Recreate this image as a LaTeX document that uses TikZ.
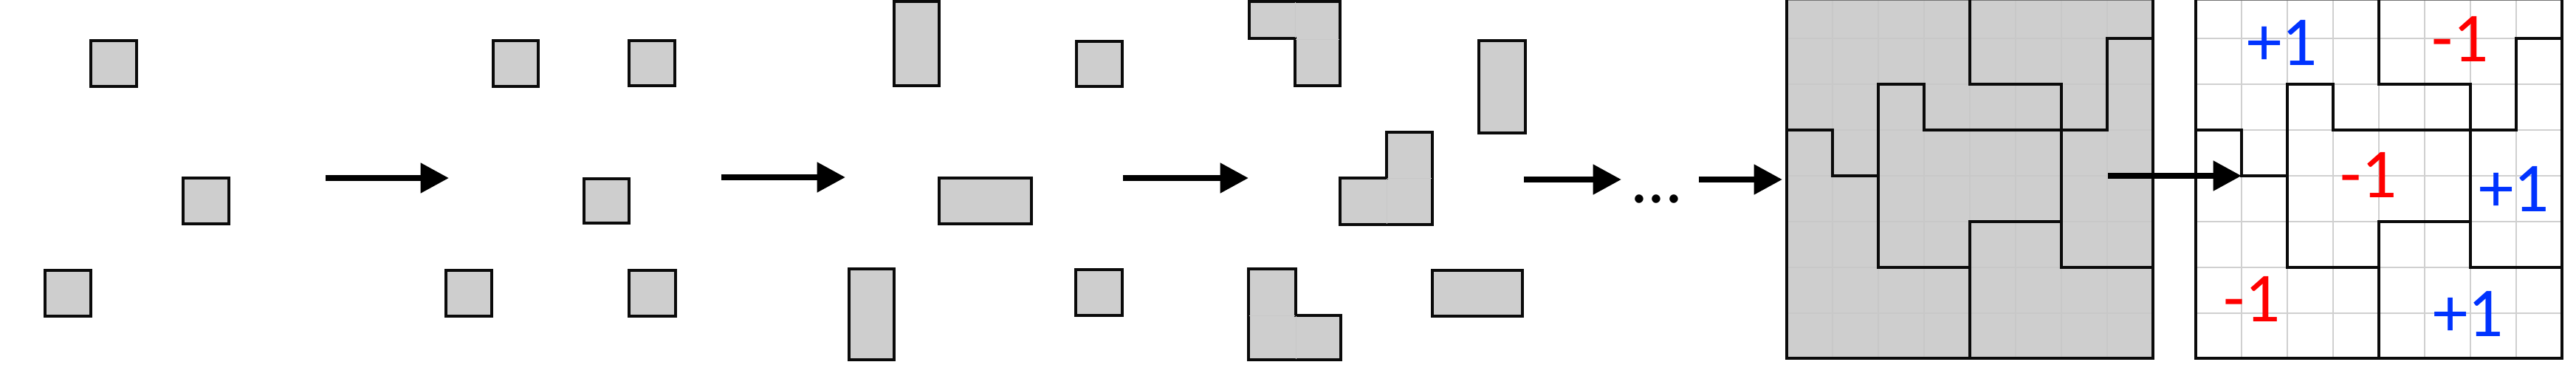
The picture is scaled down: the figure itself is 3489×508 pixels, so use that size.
\documentclass[tikz,border=0pt]{standalone}
\usepackage{fontspec}
\setmainfont{Carlito}
\usetikzlibrary{arrows.meta}
\definecolor{piecefill}{HTML}{CECECE}
\definecolor{pluscol}{HTML}{0033FF}
\definecolor{minuscol}{HTML}{FF0000}
\definecolor{gridlight}{HTML}{D0D0D0}
\definecolor{gridfaint}{HTML}{C8C8C8}
\definecolor{inkcol}{HTML}{0A0A0A}
\tikzset{
  piece/.style={fill=piecefill, draw=inkcol, line width=0.95pt, line join=miter},
  flow/.style={line width=2.3pt, -{Triangle[length=10.9pt,width=11.1pt]}},
  innercell/.style={draw=gridfaint, line width=0.25pt},
  cellgray/.style={draw=gridfaint, line width=0.3pt},
  cellwhite/.style={draw=gridlight, line width=0.5pt},
  cutline/.style={draw=inkcol, line width=0.95pt, line cap=rect},
  topedge/.style={draw=black!55, line width=0.35pt},
  lbl/.style={font=\fontsize{27}{30}\selectfont, inner sep=0pt, anchor=base},
}
\newcommand\puzzlecuts{%
  \draw[cutline] (0,0) -- (0,485) -- (496,485) -- (496,0);
  \draw[cutline] (0,176) -- (62,176) -- (62,238) -- (124,238);
  \draw[cutline] (186,176) -- (186,114) -- (124,114) -- (124,362) -- (248,362);
  \draw[cutline] (186,176) -- (372,176);
  \draw[cutline] (248,0) -- (248,114) -- (372,114) -- (372,362) -- (496,362);
  \draw[cutline] (372,176) -- (434,176) -- (434,52) -- (496,52);
  \draw[cutline] (248,485) -- (248,300) -- (372,300);
}
\begin{document}
\begin{tikzpicture}[x=0.01cm,y=-0.01cm]
\useasboundingbox (0,0) rectangle (3489,508);

% panel 1
\draw[piece] (123,55) rectangle (185,117);
\draw[piece] (248,241) rectangle (310,303);
\draw[piece] (61,366) rectangle (123,428);

% panel 2
\draw[piece] (668,55) rectangle (729,117);
\draw[piece] (852,55) rectangle (914,116);
\draw[piece] (791,242) rectangle (852,302);
\draw[piece] (604,366) rectangle (666,428);
\draw[piece] (852,366) rectangle (915,428);

% panel 3
\draw[piece] (1211,2) rectangle (1272,116);
\draw[piece] (1272,241) rectangle (1397,303);
\draw[piece] (1150,364) rectangle (1211,487);
\draw[piece] (1458,56) rectangle (1520,117);
\draw[piece] (1457,365) rectangle (1520,427);

% panel 4
\draw[piece] (1692,2) -- (1815,2) -- (1815,116) -- (1754,116) -- (1754,52) -- (1692,52) -- cycle;
\draw[innercell] (1754,3) -- (1754,51) (1755,53) -- (1814,53);
\draw[piece] (1878,179) -- (1940,179) -- (1940,304) -- (1815,304) -- (1815,241) -- (1878,241) -- cycle;
\draw[innercell] (1878,242) -- (1878,303) (1879,241) -- (1939,241);
\draw[piece] (2003,55) rectangle (2066,180);
\draw[piece] (1691,364) -- (1755,364) -- (1755,427) -- (1816,427) -- (1816,487) -- (1691,487) -- cycle;
\draw[innercell] (1692,427) -- (1754,427) (1755,428) -- (1755,486);
\draw[piece] (1940,366) rectangle (2062,428);

% dots
\node[lbl] (dots) at (2244,274) {...};

% grid 5 (grey)
\begin{scope}[shift={(2420,0)}]
  \fill[piecefill] (0,0) rectangle (496,485);
  \foreach \gx in {62,124,186,248,310,372,434} \draw[cellgray] (\gx,0) -- (\gx,485);
  \foreach \gy in {52,114,176,238,300,362,424} \draw[cellgray] (0,\gy) -- (496,\gy);
  \draw[topedge] (0,0.5) -- (496,0.5);
  \puzzlecuts
\end{scope}

% grid 6 (white, signed)
\begin{scope}[shift={(2974,0)}]
  \fill[white] (0,0) rectangle (496,485);
  \foreach \gx in {62,124,186,248,310,372,434} \draw[cellwhite] (\gx,0) -- (\gx,485);
  \foreach \gy in {52,114,176,238,300,362,424} \draw[cellwhite] (0,\gy) -- (496,\gy);
  \draw[topedge] (0,0.5) -- (496,0.5);
  \puzzlecuts
\end{scope}

% labels
\node[lbl, text=pluscol]  (l1) at (3091,88)  {+1};
\node[lbl, text=minuscol] (l2) at (3332,83)  {-1};
\node[lbl, text=minuscol] (l3) at (3208,267) {-1};
\node[lbl, text=pluscol]  (l4) at (3405,286) {+1};
\node[lbl, text=minuscol] (l5) at (3050,435) {-1};
\node[lbl, text=pluscol]  (l6) at (3343,455) {+1};

% arrows
\coordinate (a1s) at (441,241);  \coordinate (a1e) at (608,241);
\coordinate (a2s) at (977,240);  \coordinate (a2e) at (1145,240);
\coordinate (a3s) at (1521,241); \coordinate (a3e) at (1691,241);
\coordinate (a4s) at (2064,243); \coordinate (a4e) at (2196,243);
\coordinate (a5s) at (2301,243); \coordinate (a5e) at (2414,243);
\coordinate (a6s) at (2855,238); \coordinate (a6e) at (3036,238);
\draw[flow] (a1s) -- (a1e);
\draw[flow] (a2s) -- (a2e);
\draw[flow] (a3s) -- (a3e);
\draw[flow] (a4s) -- (a4e);
\draw[flow] (a5s) -- (a5e);
\draw[flow] (a6s) -- (a6e);
\end{tikzpicture}
\end{document}
